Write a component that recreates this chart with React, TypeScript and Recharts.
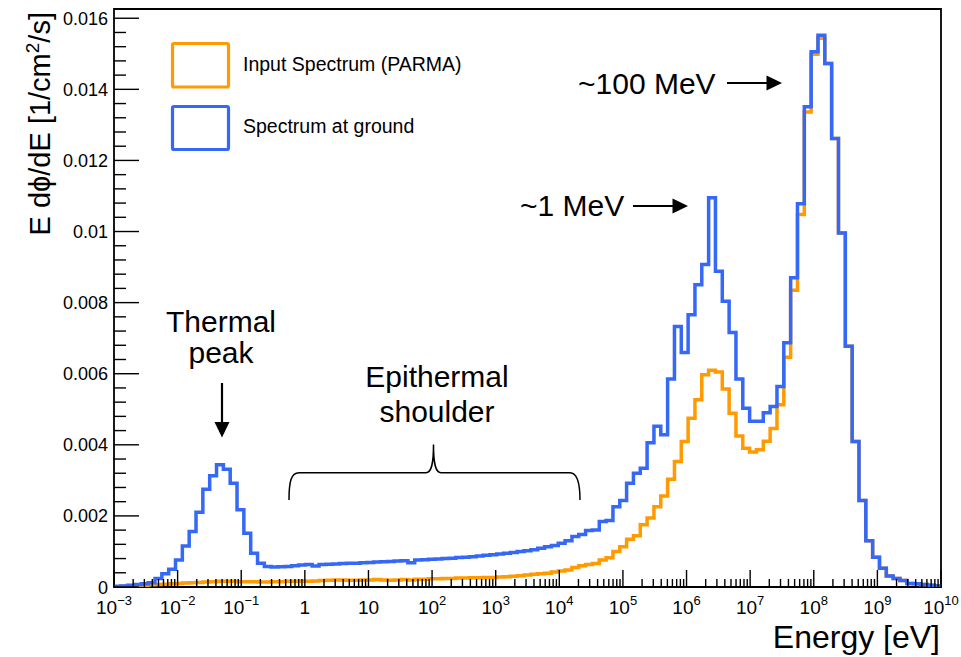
import { ComposedChart, Line, XAxis, YAxis, ReferenceArea } from 'recharts';

// 121 log-spaced bins from 1e-3 eV to 1e10 eV, E dphi/dE per bin
const groundValues = [
  0.00002, 0.00003, 0.00005, 0.00007, 0.00009, 0.00012, 0.00024, 0.00037, 0.0005, 0.00076,
  0.00115, 0.00156, 0.0021, 0.00275, 0.00313, 0.00344, 0.00331, 0.00292, 0.00217, 0.00151,
  0.00095, 0.00067, 0.00058, 0.00056, 0.00057, 0.00058, 0.0006, 0.00062, 0.00063, 0.00059,
  0.00063, 0.00064, 0.00065, 0.00066, 0.00067, 0.00067, 0.00068, 0.00069, 0.0007, 0.00071,
  0.00072, 0.00073, 0.00074, 0.00068, 0.00076, 0.00077, 0.00078, 0.00079, 0.0008, 0.00081,
  0.00083, 0.00084, 0.00085, 0.00087, 0.00089, 0.00091, 0.00093, 0.00095, 0.00097, 0.001,
  0.00102, 0.00105, 0.00109, 0.00113, 0.00117, 0.00123, 0.0013, 0.00142, 0.00148, 0.00159,
  0.0016, 0.00184, 0.00187, 0.00226, 0.00243, 0.00292, 0.0032, 0.00334, 0.00406, 0.00452,
  0.00428, 0.00585, 0.00733, 0.0066, 0.00766, 0.0085, 0.00907, 0.01095, 0.00888, 0.00804,
  0.00716, 0.00585, 0.00503, 0.00466, 0.00466, 0.0049, 0.00508, 0.00564, 0.00687, 0.0087,
  0.01078, 0.01351, 0.01506, 0.01552, 0.01473, 0.01262, 0.00996, 0.00677, 0.00409, 0.00243,
  0.0013, 0.00084, 0.00053, 0.00031, 0.00024, 0.00018, 0.0001, 0.00009, 0.00007, 0.00005,
  0.00003,
];

const parmaValues = [
  0.00001, 0.00002, 0.00003, 0.00004, 0.00005, 0.00006, 0.00007, 0.00008, 0.00009, 0.0001,
  0.00011, 0.00012, 0.00013, 0.00014, 0.00015, 0.00016, 0.00016, 0.00016, 0.00015, 0.00015,
  0.00015, 0.00014, 0.00014, 0.00015, 0.00015, 0.00016, 0.00016, 0.00017, 0.00016, 0.00017,
  0.00018, 0.00019, 0.0002, 0.0002, 0.00019, 0.00019, 0.0002, 0.0002, 0.00021, 0.0002,
  0.00019, 0.0002, 0.00021, 0.0002, 0.00022, 0.00022, 0.00023, 0.00023, 0.00024, 0.00024,
  0.00025, 0.00025, 0.00026, 0.00026, 0.00027, 0.00027, 0.00028, 0.00029, 0.0003, 0.00032,
  0.00034, 0.00036, 0.00037, 0.00039, 0.00042, 0.00045, 0.00048, 0.00055, 0.0006, 0.00063,
  0.00066, 0.00076, 0.00082, 0.001, 0.00113, 0.00134, 0.00144, 0.00175, 0.00194, 0.00226,
  0.00256, 0.00303, 0.00353, 0.00409, 0.00475, 0.00527, 0.00597, 0.0061, 0.00605, 0.00557,
  0.00489, 0.00425, 0.0039, 0.0038, 0.00386, 0.0041, 0.00446, 0.00513, 0.00646, 0.00835,
  0.01048, 0.01336, 0.01499, 0.01544, 0.01473, 0.01262, 0.00996, 0.00677, 0.00409, 0.00243,
  0.0013, 0.00084, 0.00053, 0.00031, 0.00024, 0.00018, 0.0001, 0.00009, 0.00007, 0.00005,
  0.00003,
];

const logEMin = -3;
const logEMax = 10;
const xTickExponents = [-3, -2, -1, 0, 1, 2, 3, 4, 5, 6, 7, 8, 9, 10];
const yTickLabels = ['0', '0.002', '0.004', '0.006', '0.008', '0.01', '0.012', '0.014', '0.016'];
const yMax = 0.01626;

const binWidth = (logEMax - logEMin) / groundValues.length;
const last = groundValues.length - 1;

const data = [
  { x: logEMin, ground: 0, parma: 0 },
  ...groundValues.map((g, i) => ({ x: logEMin + i * binWidth, ground: g, parma: parmaValues[i] })),
  { x: logEMax, ground: groundValues[last], parma: parmaValues[last] },
  { x: logEMax, ground: 0, parma: 0 },
];

const xTicks: number[] = [];
xTickExponents.forEach((e) => {
  xTicks.push(e);
  if (e < logEMax) {
    for (let m = 2; m <= 9; m++) xTicks.push(e + Math.log10(m));
  }
});
const yTicks = Array.from({ length: 41 }, (_, i) => i * 0.0004);

const font = '"Liberation Sans", Arial, sans-serif';
const orange = '#ff9a00';
const blue = '#3568f6';

function XTick({ x, y, payload }: any) {
  const v = payload.value;
  const e = Math.round(v);
  const major = Math.abs(v - e) < 1e-6;
  return (
    <g>
      <line x1={x} y1={y} x2={x} y2={y - (major ? 17 : 8)} stroke="#000" strokeWidth={1.4} />
      {major && (
        <text x={x} y={y + 27} textAnchor="middle" fontSize={19} fontFamily={font} fill="#000">
          {e === 0 ? '1' : e === 1 ? '10' : (
            <>
              <tspan>10</tspan>
              <tspan dy={-9} fontSize={13}>{e < 0 ? '\u2212' + -e : e}</tspan>
            </>
          )}
        </text>
      )}
    </g>
  );
}

function YTick({ x, y, payload }: any) {
  const k = Math.round(payload.value / 0.0004);
  const major = k % 5 === 0;
  return (
    <g>
      <line x1={x} y1={y} x2={x + (major ? 25 : 12)} y2={y} stroke="#000" strokeWidth={1.4} />
      {major && (
        <text x={x - 6} y={y + 6.5} textAnchor="end" fontSize={18} fontFamily={font} fill="#000">
          {yTickLabels[k / 5]}
        </text>
      )}
    </g>
  );
}

export default function App() {
  return (
    <div style={{ position: 'relative', width: 961, height: 657, background: '#fff' }}>
      <style>{`body{margin:0}`}</style>
      <ComposedChart
        width={961}
        height={657}
        data={data}
        margin={{ top: 9, right: 20, bottom: 0, left: 0 }}
      >
        <XAxis
          type="number"
          dataKey="x"
          domain={[logEMin, logEMax]}
          ticks={xTicks}
          interval={0}
          allowDataOverflow
          axisLine={false}
          tickLine={false}
          tickSize={0}
          tickMargin={0}
          height={70}
          tick={<XTick />}
        />
        <YAxis
          type="number"
          domain={[0, yMax]}
          ticks={yTicks}
          interval={0}
          allowDataOverflow
          axisLine={false}
          tickLine={false}
          tickSize={0}
          tickMargin={0}
          width={114}
          tick={<YTick />}
        />
        <Line
          type="stepAfter"
          dataKey="parma"
          stroke={orange}
          strokeWidth={3.5}
          dot={false}
          isAnimationActive={false}
        />
        <Line
          type="stepAfter"
          dataKey="ground"
          stroke={blue}
          strokeWidth={3.5}
          dot={false}
          isAnimationActive={false}
        />
        <ReferenceArea
          x1={logEMin}
          x2={logEMax}
          y1={0}
          y2={yMax}
          fill="none"
          fillOpacity={0}
          stroke="#000"
          strokeWidth={1.8}
        />
      </ComposedChart>
      <svg
        width={961}
        height={657}
        style={{ position: 'absolute', left: 0, top: 0, pointerEvents: 'none' }}
        fontFamily={font}
      >
        {/* legend */}
        <rect x={172.5} y={43.5} width={56} height={43.5} fill="none" stroke={orange} strokeWidth={3.2} rx={1.5} />
        <rect x={172.5} y={106.5} width={56} height={43} fill="none" stroke={blue} strokeWidth={3.2} rx={1.5} />
        <text x={243} y={71} fontSize={19.5} fill="#000">Input Spectrum (PARMA)</text>
        <text x={243} y={133} fontSize={19.5} fill="#000">Spectrum at ground</text>

        {/* axis titles */}
        <text x={940} y={648} textAnchor="end" fontSize={32} fill="#000">Energy [eV]</text>
        <text transform="translate(50,12) rotate(-90)" textAnchor="end" fontSize={29} fill="#000">
          E d{'\u03d5'}/dE [1/cm<tspan dy={-11} fontSize={19}>2</tspan>
          <tspan dy={11}>/s]</tspan>
        </text>

        {/* thermal peak */}
        <text x={221} y={332} textAnchor="middle" fontSize={30} fill="#000">Thermal</text>
        <text x={221} y={363} textAnchor="middle" fontSize={30} fill="#000">peak</text>
        <line x1={222} y1={383} x2={222} y2={424} stroke="#000" strokeWidth={2.2} />
        <polygon points="214.5,422 229.5,422 222,437.5" fill="#000" />

        {/* epithermal shoulder */}
        <text x={437} y={387} textAnchor="middle" fontSize={30} fill="#000">Epithermal</text>
        <text x={437} y={422} textAnchor="middle" fontSize={30} fill="#000">shoulder</text>
        <path
          d="M 289 500 C 289 482 291 472.7 299 472.7 L 426 472.7 C 431 472.7 433.5 466 433.5 444.5 C 433.5 466 436 472.7 441 472.7 L 570 472.7 C 577 472.7 580 482 580 500"
          fill="none"
          stroke="#000"
          strokeWidth={1.5}
        />

        {/* 1 MeV */}
        <text x={520} y={216} fontSize={30} fill="#000">~1 MeV</text>
        <line x1={633} y1={206} x2={675} y2={206} stroke="#000" strokeWidth={2.2} />
        <polygon points="672.5,198.5 672.5,213.5 688,206" fill="#000" />

        {/* 100 MeV */}
        <text x={578} y={94} fontSize={30} fill="#000">~100 MeV</text>
        <line x1={727} y1={83} x2={769} y2={83} stroke="#000" strokeWidth={2.2} />
        <polygon points="766.5,75.5 766.5,90.5 782,83" fill="#000" />
      </svg>
    </div>
  );
}
